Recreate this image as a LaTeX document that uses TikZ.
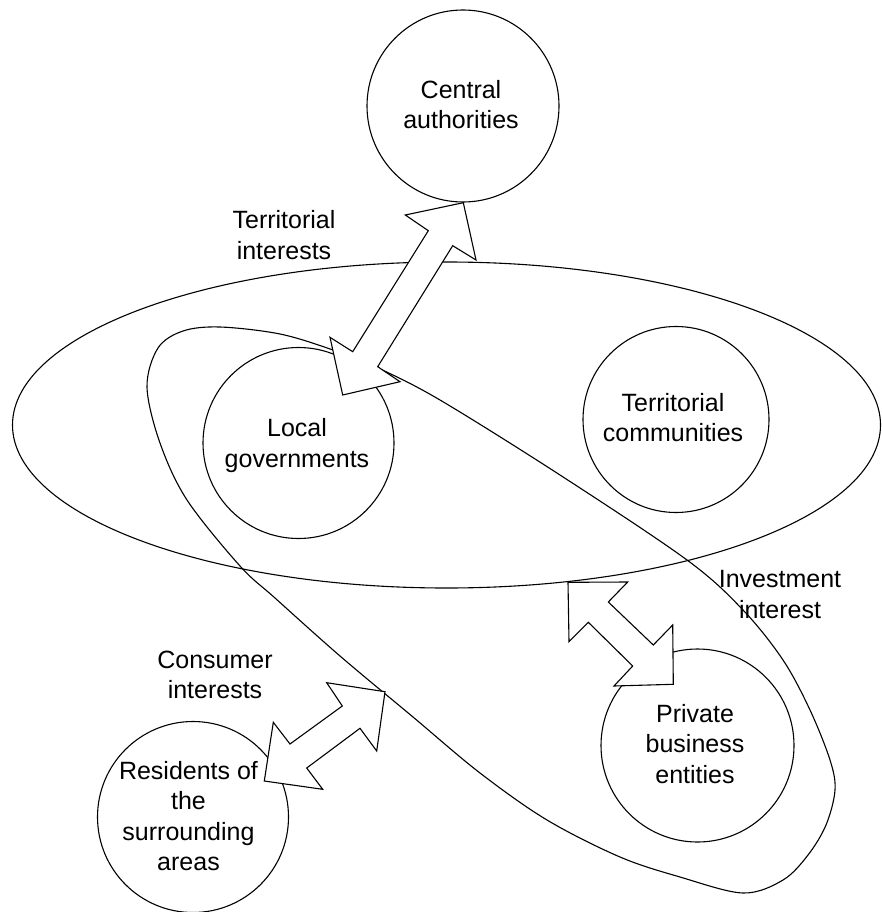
\documentclass[tikz,border=0pt]{standalone}
\usepackage{fontspec}
\setmainfont{Liberation Sans}
\usetikzlibrary{shapes.geometric}
\begin{document}
\begin{tikzpicture}[x=1pt,y=-1pt,line width=1.1pt,
  circ/.style={circle,draw,inner sep=0pt,outer sep=0pt},
  lbl/.style={align=center,inner sep=0pt,font=\fontsize{25}{30.5}\selectfont},
  blockarrow/.style={draw,fill=white,line join=miter}]
\useasboundingbox (0,0) rectangle (881,912);
% big horizontal ellipse (territorial interests)
\node[ellipse,draw,inner sep=0pt,outer sep=0pt,minimum width=868pt,minimum height=326pt] (terr) at (446.5,425) {};
% tilted blob
\draw plot[smooth cycle,tension=0.55] coordinates {
 (220,327) (280,334) (333,350) (378,368) (440,400) (560,475) (687,560)
 (743,610) (783,660) (810,710) (830,760) (835,790) (826,825) (808,855)
 (783,880) (743,893) (680,877) (620,857) (547,820) (480,773) (413,717)
 (340,656) (275,598) (240,566) (187,500) (160,443) (147,387) (158,348) (183,331)};
% circles
\node[circ,minimum size=192pt] (ca) at (463,106) {};
\node[circ,minimum size=191pt] (lg) at (298.5,443) {};
\node[circ,minimum size=186pt] (tc) at (676,419.5) {};
\node[circ,minimum size=193pt] (pb) at (697.5,745.5) {};
\node[circ,minimum size=191pt] (rs) at (193,817) {};
% circle texts
\node[lbl] (cat) at (461,104.7) {Central\\authorities};
\node[lbl] (lgt) at (297,445.5) {Local\\governments};
\node[lbl] (tct) at (673,417.5) {Territorial\\communities};
\node[lbl] (pbt) at (695,744) {Private\\business\\entities};
\node[lbl] (rst) at (188.5,816.3) {Residents of\\the\\surrounding\\areas};
% interest labels
\node[lbl] (ti) at (284,235.3) {Territorial\\interests};
\node[lbl] (ci) at (215,675) {Consumer\\interests};
\node[lbl] (ii) at (780,594.5) {Investment\\interest};
% block arrows
\draw[blockarrow] (463.3,202.7) -- (476,260) -- (452.7,245.7) -- (377.7,366.7) -- (400,381.7)
  -- (342.7,395) -- (330,337.3) -- (352.7,351.7) -- (428.3,230.7) -- (405.3,215) -- cycle;
\draw[blockarrow] (568,582.3) -- (627.7,582) -- (608.3,602) -- (653.3,645) -- (672.7,625)
  -- (673.3,684.3) -- (614,686) -- (632.7,666) -- (588.3,622.3) -- (569,641.7) -- cycle;
\draw[blockarrow] (385,691.7) -- (376.7,751) -- (360,728.3) -- (306.7,768) -- (322.7,789.3)
  -- (264.3,781) -- (273.3,722.3) -- (290,744) -- (342.3,706) -- (326.7,682.7) -- cycle;
\end{tikzpicture}
\end{document}
